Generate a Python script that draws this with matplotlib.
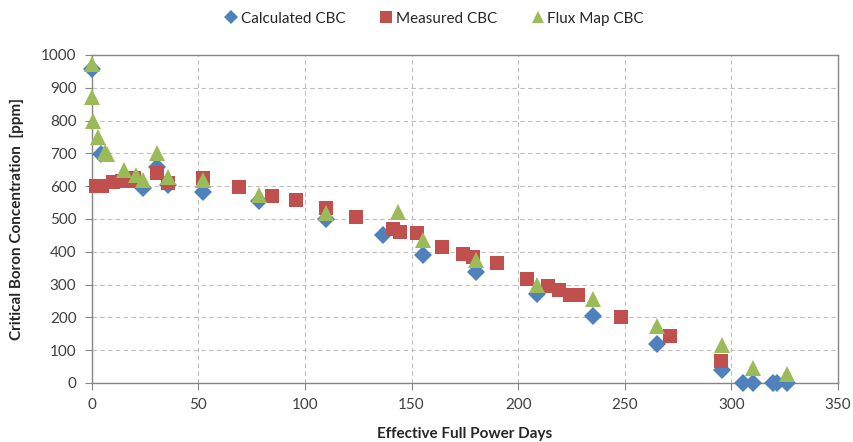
import matplotlib
matplotlib.use("Agg")
import matplotlib.pyplot as plt
from matplotlib.lines import Line2D

plt.rcParams['font.family'] = ['Lato', 'DejaVu Sans']

# Calculated CBC
calc_efpd = [0, 4.5, 24, 30.5, 36, 52, 78.6, 110, 136.5, 155.5, 180, 208.6,
             235, 265, 295.5, 305.5, 310, 319.5, 321.5, 326]
calc_ppm = [958, 697, 595, 660, 603, 582, 555, 500, 450, 390, 338, 270,
            205, 120, 40, 0, 0, 0, 0, 0]

# Measured CBC
meas_efpd = [2, 5, 10, 14, 18, 20, 30.5, 36, 52, 69, 84.6, 96, 110, 124,
             141.4, 144.5, 152.4, 164.5, 174, 179, 190, 204, 214, 219,
             224.5, 228, 248, 271, 295]
meas_ppm = [600, 602, 612, 615, 616, 624, 640, 609, 624, 599, 570, 558, 535,
            506, 468, 461, 456, 414, 393, 383, 365, 318, 296, 284, 268, 267,
            202, 144, 68]

# Flux Map CBC
flux_efpd = [0, 0, 0.7, 3.1, 6, 7.3, 15.3, 20.6, 24.2, 30.5, 36, 52, 78.6,
             110, 143.7, 155.5, 180, 208.6, 235, 265.2, 295.8, 310, 326]
flux_ppm = [972, 873, 800, 749, 705, 698, 649, 634, 619, 700, 629, 620, 574,
            517, 522, 435, 376, 300, 255, 175, 117, 47, 28]

x_ticks = [0, 50, 100, 150, 200, 250, 300, 350]
y_ticks = [0, 100, 200, 300, 400, 500, 600, 700, 800, 900, 1000]

c_blue = '#4F81BD'
c_red = '#C0504D'
c_green = '#9BBB59'

fig = plt.figure(figsize=(8.54, 4.42), dpi=100)
ax = fig.add_axes([0.1074, 0.1335, 0.9813 - 0.1074, 0.8756 - 0.1335])

ax.plot(calc_efpd, calc_ppm, linestyle='none', marker='D', markersize=9,
        color=c_blue, markeredgewidth=0, zorder=3, clip_on=False,
        label='Calculated CBC')
ax.plot(meas_efpd, meas_ppm, linestyle='none', marker='s', markersize=10,
        color=c_red, markeredgewidth=0, zorder=4, clip_on=False,
        label='Measured CBC')
ax.plot(flux_efpd, flux_ppm, linestyle='none', marker='^', markersize=11,
        color=c_green, markeredgewidth=0, zorder=5, clip_on=False,
        label='Flux Map CBC')

ax.set_xlim(0, 350)
ax.set_ylim(0, 1000)
ax.set_xticks(x_ticks)
ax.set_yticks(y_ticks)
ax.grid(True, linestyle=(0, (4, 3)), color='#BFBFBF', linewidth=0.8)
ax.set_axisbelow(True)
for s in ax.spines.values():
    s.set_color('#868686')
    s.set_linewidth(1.0)
    s.set_zorder(2)
ax.tick_params(axis='both', direction='out', length=5, color='#868686',
               labelsize=11, labelcolor='#404040', pad=6)

ax.set_xlabel('Effective Full Power Days', fontsize=11, fontweight='bold',
              color='#262626')
ax.xaxis.set_label_coords(0.5, -0.133)
ax.xaxis.label.set_va('top')
ax.set_ylabel('Critical Boron Concentration  [ppm]', fontsize=11,
              fontweight='bold', color='#262626')
ax.yaxis.set_label_coords(-0.091, 0.5)

handles = [
    Line2D([], [], linestyle='none', marker='D', markersize=7, color=c_blue, markeredgewidth=0),
    Line2D([], [], linestyle='none', marker='s', markersize=8, color=c_red, markeredgewidth=0),
    Line2D([], [], linestyle='none', marker='^', markersize=8, color=c_green, markeredgewidth=0),
]
fig.legend(handles, ['Calculated CBC', 'Measured CBC', 'Flux Map CBC'],
           loc='upper center', bbox_to_anchor=(0.508, 1.005), ncol=3,
           frameon=False, fontsize=11, handletextpad=0.1, columnspacing=2.2,
           handlelength=1.0, labelcolor='#262626')

fig.savefig('out.png', dpi=100)
